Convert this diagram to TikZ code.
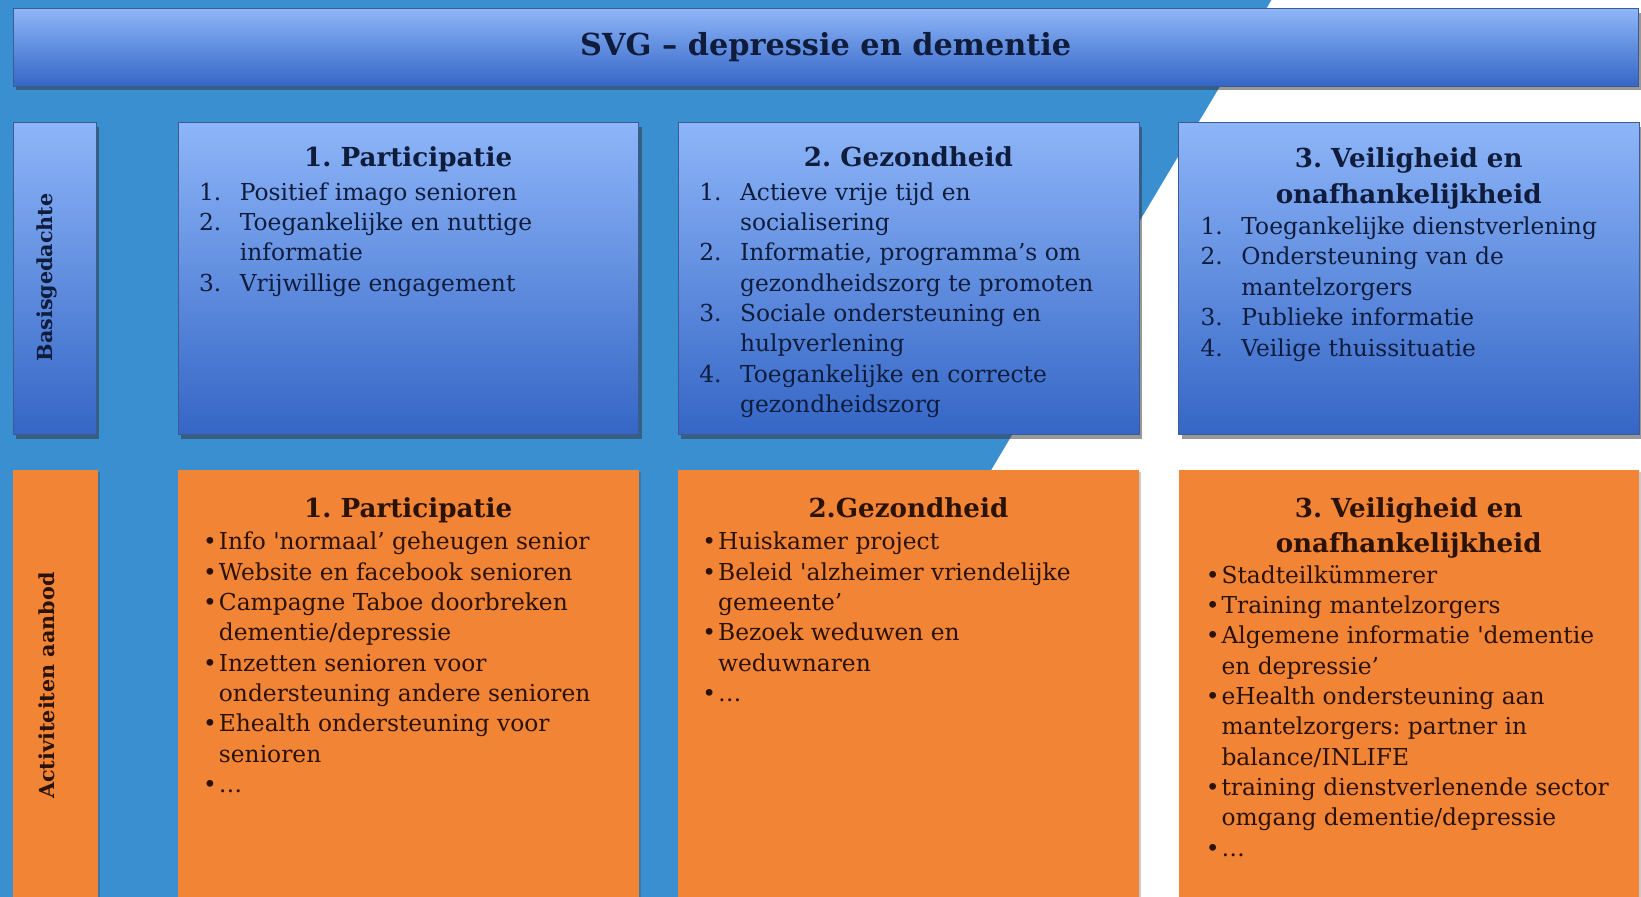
\documentclass[tikz,border=0pt]{standalone}
\usepackage{fontspec}
\setmainfont{DejaVu Serif}
\usetikzlibrary{shadows}
\frenchspacing
\definecolor{bgblue}{HTML}{3A8FD0}
\definecolor{btop}{HTML}{8DB5F8}
\definecolor{bbot}{HTML}{3566C6}
\definecolor{bline}{HTML}{3D5A92}
\definecolor{orng}{HTML}{F28436}
\definecolor{navytxt}{HTML}{101C3C}
\definecolor{browntxt}{HTML}{2A1205}
\newcommand\numitem[2]{\makebox[39pt][l]{#1}#2}
\newcommand\contline[1]{\hspace*{39pt}#1}
\newcommand\bulitem[1]{\makebox[15pt][l]{•}#1}
\newcommand\bulcont[1]{\hspace*{15pt}#1}
\newcommand\toprule{\rule{0pt}{21pt}}
\newcommand\headrule{\rule{0pt}{26pt}}
\tikzset{
  bluebox/.style={draw=bline, line width=1pt, top color=btop, bottom color=bbot,
    anchor=north west, inner sep=0pt,
    drop shadow={shadow xshift=2.5pt, shadow yshift=-3.5pt, opacity=.5, fill=black!80}},
  orangebox/.style={fill=orng, anchor=north west, inner sep=0pt,
    drop shadow={shadow xshift=2pt, shadow yshift=-2pt, opacity=.25, fill=black!80}},
  headtxt/.style={font=\fontsize{25}{34}\selectfont\bfseries, anchor=base, align=center, inner sep=0pt},
  head2txt/.style={font=\fontsize{25}{34}\selectfont\bfseries, anchor=north, align=center, inner sep=0pt},
  listtxt/.style={font=\fontsize{22.3}{29}\selectfont, anchor=north west, align=left, inner sep=0pt},
  sidetxt/.style={font=\fontsize{19.8}{23}\selectfont\bfseries, rotate=90, inner sep=0pt},
}
\begin{document}
\begin{tikzpicture}[x=1pt,y=-1pt]
\useasboundingbox (0,0) rectangle (1568,857);
\fill[bgblue] (0,0) rectangle (1568,857);
\fill[white] (1215,0) -- (1568,0) -- (1568,857) -- (704,857) -- cycle;
% header
\node[bluebox, minimum width=1553pt, minimum height=74pt] (hdr) at (12,8) {};
\node[font=\fontsize{29}{32}\selectfont\bfseries, text=navytxt, anchor=base, inner sep=0pt] (title) at (789,53) {SVG – depressie en dementie};
% row 1
\node[bluebox, minimum width=80pt, minimum height=298pt] (sideA) at (12,117) {};
\node[sidetxt, text=navytxt] (sideAt) at (45,265) {Basisgedachte};
\node[bluebox, minimum width=440pt, minimum height=298pt] (b1) at (170,117) {};
\node[bluebox, minimum width=440pt, minimum height=298pt] (b2) at (648,117) {};
\node[bluebox, minimum width=440pt, minimum height=298pt] (b3) at (1126,117) {};
\node[headtxt, text=navytxt] (h1) at (390,159) {1. Participatie};
\node[listtxt, text=navytxt] (l1) at (190,170) {%
\toprule\numitem{1.}{Positief imago senioren}\\
\numitem{2.}{Toegankelijke en nuttige}\\
\contline{informatie}\\
\numitem{3.}{Vrijwillige engagement}};
\node[headtxt, text=navytxt] (h2) at (868,159) {2. Gezondheid};
\node[listtxt, text=navytxt] (l2) at (668,170) {%
\toprule\numitem{1.}{Actieve vrije tijd en}\\
\contline{socialisering}\\
\numitem{2.}{Informatie, programma's om}\\
\contline{gezondheidszorg te promoten}\\
\numitem{3.}{Sociale ondersteuning en}\\
\contline{hulpverlening}\\
\numitem{4.}{Toegankelijke en correcte}\\
\contline{gezondheidszorg}};
\node[head2txt, text=navytxt] (h3) at (1346,134) {\headrule 3. Veiligheid en\\onafhankelijkheid};
\node[listtxt, text=navytxt] (l3) at (1147,203) {%
\toprule\numitem{1.}{Toegankelijke dienstverlening}\\
\numitem{2.}{Ondersteuning van de}\\
\contline{mantelzorgers}\\
\numitem{3.}{Publieke informatie}\\
\numitem{4.}{Veilige thuissituatie}};
% row 2
\node[orangebox, minimum width=81pt, minimum height=420pt] (sideB) at (12,449) {};
\node[sidetxt, text=browntxt] (sideBt) at (45,655) {Activiteiten aanbod};
\node[orangebox, minimum width=440pt, minimum height=420pt] (o1) at (170,449) {};
\node[orangebox, minimum width=440pt, minimum height=420pt] (o2) at (648,449) {};
\node[orangebox, minimum width=440pt, minimum height=420pt] (o3) at (1126,449) {};
\node[headtxt, text=browntxt] (oh1) at (390,494) {1. Participatie};
\node[listtxt, text=browntxt] (ol1) at (194,504) {%
\toprule\bulitem{Info \textquotesingle normaal’ geheugen senior}\\
\bulitem{Website en facebook senioren}\\
\bulitem{Campagne Taboe doorbreken}\\
\bulcont{dementie/depressie}\\
\bulitem{Inzetten senioren voor}\\
\bulcont{ondersteuning andere senioren}\\
\bulitem{Ehealth ondersteuning voor}\\
\bulcont{senioren}\\
\bulitem{…}};
\node[headtxt, text=browntxt] (oh2) at (868,494) {2.Gezondheid};
\node[listtxt, text=browntxt] (ol2) at (671,504) {%
\toprule\bulitem{Huiskamer project}\\
\bulitem{Beleid \textquotesingle alzheimer vriendelijke}\\
\bulcont{gemeente’}\\
\bulitem{Bezoek weduwen en}\\
\bulcont{weduwnaren}\\
\bulitem{…}};
\node[head2txt, text=browntxt] (oh3) at (1346,468) {\headrule 3. Veiligheid en\\onafhankelijkheid};
\node[listtxt, text=browntxt] (ol3) at (1152,536) {%
\toprule\bulitem{Stadteilkümmerer}\\
\bulitem{Training mantelzorgers}\\
\bulitem{Algemene informatie \textquotesingle dementie}\\
\bulcont{en depressie’}\\
\bulitem{eHealth ondersteuning aan}\\
\bulcont{mantelzorgers: partner in}\\
\bulcont{balance/INLIFE}\\
\bulitem{training dienstverlenende sector}\\
\bulcont{omgang dementie/depressie}\\
\bulitem{…}};
\end{tikzpicture}
\end{document}
